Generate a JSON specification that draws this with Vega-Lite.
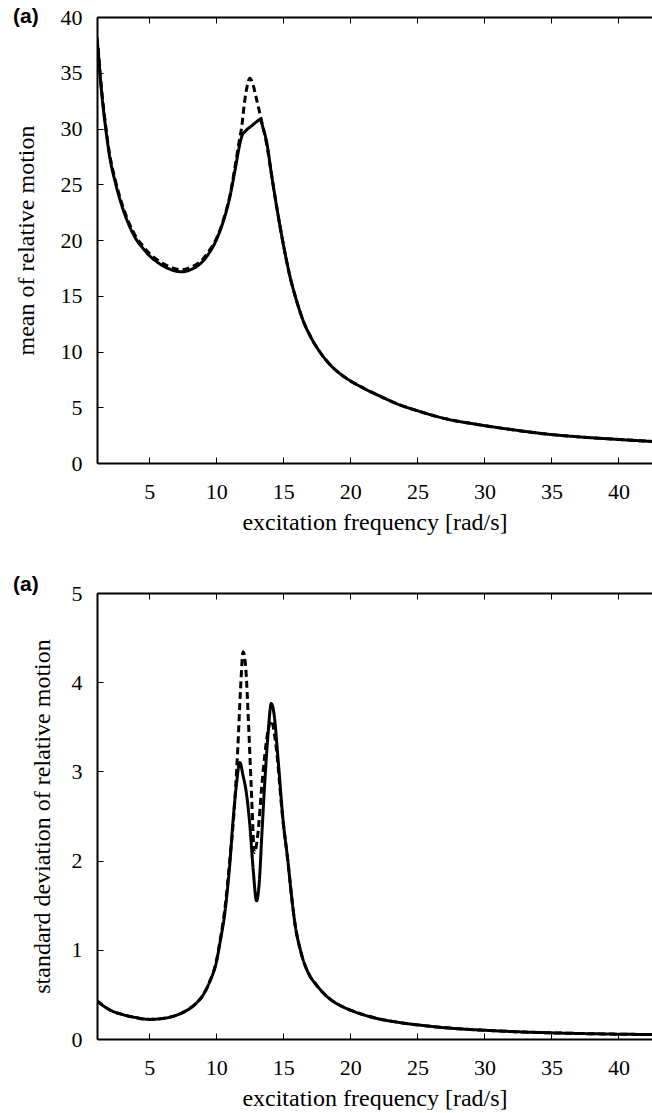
{
  "$schema": "https://vega.github.io/schema/vega-lite/v6.json",
  "padding": {"left": 13, "top": 6, "right": 0, "bottom": 0},
  "background": "white",
  "config": {
    "font": "Liberation Serif",
    "view": {"stroke": null},
    "axis": {"grid": false, "domainColor": "black", "domainWidth": 2, "tickColor": "black", "tickWidth": 1, "tickSize": -6, "labelFont": "Liberation Serif", "labelFontSize": 22, "labelColor": "black", "labelPadding": 21, "titleFont": "Liberation Serif", "titleFontSize": 24, "titleFontWeight": "normal", "titleColor": "black", "titlePadding": 22},
    "title": {"font": "Liberation Sans", "fontSize": 21, "fontWeight": "bold", "anchor": "start", "frame": "group", "color": "black"},
    "concat": {"spacing": 40}
  },
  "datasets": {
    "mean": [
      {"x": 1.1, "v": 38.0, "s": "solid"}, {"x": 1.2, "v": 36.8, "s": "solid"}, {"x": 1.35, "v": 34.5, "s": "solid"}, {"x": 1.5, "v": 32.6, "s": "solid"}, {"x": 1.75, "v": 30.0, "s": "solid"}, {"x": 2.0, "v": 27.8, "s": "solid"}, {"x": 2.5, "v": 25.0, "s": "solid"}, {"x": 3.0, "v": 22.9, "s": "solid"}, {"x": 3.5, "v": 21.3, "s": "solid"}, {"x": 4.0, "v": 20.1, "s": "solid"}, {"x": 4.5, "v": 19.3, "s": "solid"}, {"x": 5.0, "v": 18.6, "s": "solid"}, {"x": 5.5, "v": 18.1, "s": "solid"}, {"x": 6.0, "v": 17.7, "s": "solid"}, {"x": 6.5, "v": 17.4, "s": "solid"}, {"x": 7.0, "v": 17.2, "s": "solid"}, {"x": 7.5, "v": 17.15, "s": "solid"}, {"x": 8.0, "v": 17.3, "s": "solid"}, {"x": 8.5, "v": 17.6, "s": "solid"}, {"x": 9.0, "v": 18.1, "s": "solid"}, {"x": 9.5, "v": 18.9, "s": "solid"}, {"x": 10.0, "v": 20.0, "s": "solid"}, {"x": 10.5, "v": 21.6, "s": "solid"}, {"x": 11.0, "v": 23.8, "s": "solid"}, {"x": 11.4, "v": 26.3, "s": "solid"}, {"x": 11.7, "v": 28.3, "s": "solid"}, {"x": 11.9, "v": 29.3, "s": "solid"}, {"x": 12.2, "v": 29.8, "s": "solid"}, {"x": 12.6, "v": 30.2, "s": "solid"}, {"x": 13.0, "v": 30.6, "s": "solid"}, {"x": 13.25, "v": 30.8, "s": "solid"}, {"x": 13.5, "v": 30.0, "s": "solid"}, {"x": 13.8, "v": 28.5, "s": "solid"}, {"x": 14.1, "v": 26.0, "s": "solid"}, {"x": 14.5, "v": 23.0, "s": "solid"}, {"x": 15.0, "v": 19.6, "s": "solid"}, {"x": 15.5, "v": 16.7, "s": "solid"}, {"x": 16.0, "v": 14.5, "s": "solid"}, {"x": 16.5, "v": 12.7, "s": "solid"}, {"x": 17.0, "v": 11.4, "s": "solid"}, {"x": 17.7, "v": 10.0, "s": "solid"}, {"x": 18.5, "v": 8.8, "s": "solid"}, {"x": 19.7, "v": 7.6, "s": "solid"}, {"x": 21.0, "v": 6.7, "s": "solid"}, {"x": 22.2, "v": 6.0, "s": "solid"}, {"x": 23.5, "v": 5.3, "s": "solid"}, {"x": 25.1, "v": 4.65, "s": "solid"}, {"x": 27.0, "v": 4.0, "s": "solid"}, {"x": 29.6, "v": 3.43, "s": "solid"}, {"x": 32.0, "v": 3.0, "s": "solid"}, {"x": 34.6, "v": 2.6, "s": "solid"}, {"x": 37.0, "v": 2.35, "s": "solid"}, {"x": 39.5, "v": 2.15, "s": "solid"}, {"x": 42.5, "v": 1.93, "s": "solid"},
      {"x": 1.1, "v": 38.2, "s": "dashed"}, {"x": 1.2, "v": 37.0, "s": "dashed"}, {"x": 1.35, "v": 34.7, "s": "dashed"}, {"x": 1.5, "v": 32.8, "s": "dashed"}, {"x": 1.75, "v": 30.2, "s": "dashed"}, {"x": 2.0, "v": 28.0, "s": "dashed"}, {"x": 2.5, "v": 25.2, "s": "dashed"}, {"x": 3.0, "v": 23.1, "s": "dashed"}, {"x": 3.5, "v": 21.5, "s": "dashed"}, {"x": 4.0, "v": 20.3, "s": "dashed"}, {"x": 4.5, "v": 19.5, "s": "dashed"}, {"x": 5.0, "v": 18.8, "s": "dashed"}, {"x": 5.5, "v": 18.3, "s": "dashed"}, {"x": 6.0, "v": 17.9, "s": "dashed"}, {"x": 6.5, "v": 17.6, "s": "dashed"}, {"x": 7.0, "v": 17.4, "s": "dashed"}, {"x": 7.5, "v": 17.35, "s": "dashed"}, {"x": 8.0, "v": 17.5, "s": "dashed"}, {"x": 8.5, "v": 17.8, "s": "dashed"}, {"x": 9.0, "v": 18.3, "s": "dashed"}, {"x": 9.5, "v": 19.1, "s": "dashed"}, {"x": 10.0, "v": 20.1, "s": "dashed"}, {"x": 10.5, "v": 21.7, "s": "dashed"}, {"x": 11.0, "v": 23.9, "s": "dashed"}, {"x": 11.4, "v": 26.6, "s": "dashed"}, {"x": 11.7, "v": 28.8, "s": "dashed"}, {"x": 11.9, "v": 30.2, "s": "dashed"}, {"x": 12.1, "v": 32.3, "s": "dashed"}, {"x": 12.3, "v": 33.8, "s": "dashed"}, {"x": 12.5, "v": 34.5, "s": "dashed"}, {"x": 12.7, "v": 34.1, "s": "dashed"}, {"x": 12.95, "v": 32.9, "s": "dashed"}, {"x": 13.2, "v": 31.6, "s": "dashed"}, {"x": 13.45, "v": 30.3, "s": "dashed"}, {"x": 13.8, "v": 28.3, "s": "dashed"}, {"x": 14.1, "v": 26.0, "s": "dashed"}, {"x": 14.5, "v": 23.0, "s": "dashed"}, {"x": 15.0, "v": 19.6, "s": "dashed"}, {"x": 15.5, "v": 16.7, "s": "dashed"}, {"x": 16.0, "v": 14.5, "s": "dashed"}, {"x": 16.5, "v": 12.7, "s": "dashed"}, {"x": 17.0, "v": 11.4, "s": "dashed"}, {"x": 17.7, "v": 10.0, "s": "dashed"}, {"x": 18.5, "v": 8.8, "s": "dashed"}, {"x": 19.7, "v": 7.6, "s": "dashed"}, {"x": 21.0, "v": 6.7, "s": "dashed"}, {"x": 22.2, "v": 6.0, "s": "dashed"}, {"x": 23.5, "v": 5.3, "s": "dashed"}, {"x": 25.1, "v": 4.65, "s": "dashed"}, {"x": 27.0, "v": 4.0, "s": "dashed"}, {"x": 29.6, "v": 3.43, "s": "dashed"}, {"x": 32.0, "v": 3.0, "s": "dashed"}, {"x": 34.6, "v": 2.6, "s": "dashed"}, {"x": 37.0, "v": 2.35, "s": "dashed"}, {"x": 39.5, "v": 2.15, "s": "dashed"}, {"x": 42.5, "v": 1.93, "s": "dashed"}
    ],
    "std": [
      {"x": 1.1, "v": 0.43, "s": "solid"}, {"x": 1.5, "v": 0.38, "s": "solid"}, {"x": 2.0, "v": 0.33, "s": "solid"}, {"x": 3.0, "v": 0.275, "s": "solid"}, {"x": 4.0, "v": 0.24, "s": "solid"}, {"x": 5.0, "v": 0.22, "s": "solid"}, {"x": 6.0, "v": 0.23, "s": "solid"}, {"x": 7.0, "v": 0.265, "s": "solid"}, {"x": 8.0, "v": 0.34, "s": "solid"}, {"x": 8.5, "v": 0.4, "s": "solid"}, {"x": 9.0, "v": 0.49, "s": "solid"}, {"x": 9.5, "v": 0.64, "s": "solid"}, {"x": 10.0, "v": 0.86, "s": "solid"}, {"x": 10.3, "v": 1.1, "s": "solid"}, {"x": 10.64, "v": 1.42, "s": "solid"}, {"x": 11.0, "v": 1.95, "s": "solid"}, {"x": 11.26, "v": 2.47, "s": "solid"}, {"x": 11.5, "v": 2.85, "s": "solid"}, {"x": 11.75, "v": 3.1, "s": "solid"}, {"x": 12.0, "v": 2.95, "s": "solid"}, {"x": 12.25, "v": 2.75, "s": "solid"}, {"x": 12.5, "v": 2.4, "s": "solid"}, {"x": 12.75, "v": 1.9, "s": "solid"}, {"x": 13.0, "v": 1.55, "s": "solid"}, {"x": 13.2, "v": 1.75, "s": "solid"}, {"x": 13.4, "v": 2.3, "s": "solid"}, {"x": 13.6, "v": 2.84, "s": "solid"}, {"x": 13.85, "v": 3.4, "s": "solid"}, {"x": 14.1, "v": 3.76, "s": "solid"}, {"x": 14.3, "v": 3.65, "s": "solid"}, {"x": 14.6, "v": 3.15, "s": "solid"}, {"x": 14.97, "v": 2.47, "s": "solid"}, {"x": 15.35, "v": 1.98, "s": "solid"}, {"x": 15.6, "v": 1.62, "s": "solid"}, {"x": 15.85, "v": 1.31, "s": "solid"}, {"x": 16.3, "v": 0.98, "s": "solid"}, {"x": 16.83, "v": 0.75, "s": "solid"}, {"x": 17.5, "v": 0.6, "s": "solid"}, {"x": 18.3, "v": 0.47, "s": "solid"}, {"x": 19.0, "v": 0.395, "s": "solid"}, {"x": 19.9, "v": 0.33, "s": "solid"}, {"x": 20.8, "v": 0.28, "s": "solid"}, {"x": 22.0, "v": 0.23, "s": "solid"}, {"x": 23.65, "v": 0.185, "s": "solid"}, {"x": 25.5, "v": 0.15, "s": "solid"}, {"x": 27.4, "v": 0.122, "s": "solid"}, {"x": 30.0, "v": 0.098, "s": "solid"}, {"x": 32.3, "v": 0.082, "s": "solid"}, {"x": 35.0, "v": 0.069, "s": "solid"}, {"x": 37.3, "v": 0.061, "s": "solid"}, {"x": 40.0, "v": 0.054, "s": "solid"}, {"x": 42.5, "v": 0.05, "s": "solid"},
      {"x": 1.1, "v": 0.43, "s": "dashed"}, {"x": 1.5, "v": 0.38, "s": "dashed"}, {"x": 2.0, "v": 0.33, "s": "dashed"}, {"x": 3.0, "v": 0.275, "s": "dashed"}, {"x": 4.0, "v": 0.24, "s": "dashed"}, {"x": 5.0, "v": 0.22, "s": "dashed"}, {"x": 6.0, "v": 0.23, "s": "dashed"}, {"x": 7.0, "v": 0.265, "s": "dashed"}, {"x": 8.0, "v": 0.34, "s": "dashed"}, {"x": 8.5, "v": 0.4, "s": "dashed"}, {"x": 9.0, "v": 0.49, "s": "dashed"}, {"x": 9.5, "v": 0.64, "s": "dashed"}, {"x": 10.0, "v": 0.87, "s": "dashed"}, {"x": 10.3, "v": 1.12, "s": "dashed"}, {"x": 10.64, "v": 1.46, "s": "dashed"}, {"x": 11.0, "v": 2.0, "s": "dashed"}, {"x": 11.3, "v": 2.5, "s": "dashed"}, {"x": 11.6, "v": 3.25, "s": "dashed"}, {"x": 11.8, "v": 3.9, "s": "dashed"}, {"x": 12.0, "v": 4.34, "s": "dashed"}, {"x": 12.2, "v": 4.15, "s": "dashed"}, {"x": 12.4, "v": 3.55, "s": "dashed"}, {"x": 12.6, "v": 2.84, "s": "dashed"}, {"x": 12.85, "v": 2.09, "s": "dashed"}, {"x": 13.1, "v": 2.3, "s": "dashed"}, {"x": 13.4, "v": 2.85, "s": "dashed"}, {"x": 13.85, "v": 3.45, "s": "dashed"}, {"x": 14.1, "v": 3.57, "s": "dashed"}, {"x": 14.4, "v": 3.35, "s": "dashed"}, {"x": 14.97, "v": 2.45, "s": "dashed"}, {"x": 15.35, "v": 1.98, "s": "dashed"}, {"x": 15.6, "v": 1.62, "s": "dashed"}, {"x": 15.85, "v": 1.31, "s": "dashed"}, {"x": 16.3, "v": 0.98, "s": "dashed"}, {"x": 16.83, "v": 0.75, "s": "dashed"}, {"x": 17.5, "v": 0.6, "s": "dashed"}, {"x": 18.3, "v": 0.47, "s": "dashed"}, {"x": 19.0, "v": 0.395, "s": "dashed"}, {"x": 19.9, "v": 0.33, "s": "dashed"}, {"x": 20.8, "v": 0.28, "s": "dashed"}, {"x": 22.0, "v": 0.23, "s": "dashed"}, {"x": 23.65, "v": 0.185, "s": "dashed"}, {"x": 25.5, "v": 0.15, "s": "dashed"}, {"x": 27.4, "v": 0.122, "s": "dashed"}, {"x": 30.0, "v": 0.098, "s": "dashed"}, {"x": 32.3, "v": 0.082, "s": "dashed"}, {"x": 35.0, "v": 0.069, "s": "dashed"}, {"x": 37.3, "v": 0.061, "s": "dashed"}, {"x": 40.0, "v": 0.054, "s": "dashed"}, {"x": 42.5, "v": 0.05, "s": "dashed"}
    ]
  },
  "vconcat": [
    {
      "width": 555, "height": 446,
      "title": {"text": "(a)", "dx": -84, "dy": 25},
      "data": {"name": "mean"},
      "layer": [
        {
          "mark": {"type": "line", "strokeWidth": 3, "clip": true, "color": "black", "interpolate": "monotone"},
          "encoding": {
            "x": {"field": "x", "type": "quantitative", "scale": {"domain": [1.1, 42.5], "nice": false, "zero": false}, "axis": {"orient": "bottom", "values": [5, 10, 15, 20, 25, 30, 35, 40], "title": "excitation frequency [rad/s]", "labelPadding": 24, "titlePadding": 8}},
            "y": {"field": "v", "type": "quantitative", "scale": {"domain": [0, 40], "nice": false}, "axis": {"values": [0, 5, 10, 15, 20, 25, 30, 35, 40], "title": "mean of relative motion"}},
            "strokeDash": {"field": "s", "type": "nominal", "scale": {"domain": ["solid", "dashed"], "range": [[1, 0], [7, 4]]}, "legend": null}
          }
        },
        {
          "mark": {"type": "line", "opacity": 0},
          "encoding": {
            "x": {"field": "x", "type": "quantitative", "axis": {"orient": "top", "labels": false, "title": null, "values": [5, 10, 15, 20, 25, 30, 35, 40]}},
            "y": {"field": "v", "type": "quantitative"}
          }
        }
      ],
      "resolve": {"axis": {"x": "independent"}}
    },
    {
      "width": 555, "height": 446,
      "title": {"text": "(a)", "dx": -84, "dy": 17},
      "data": {"name": "std"},
      "layer": [
        {
          "mark": {"type": "line", "strokeWidth": 3, "clip": true, "color": "black", "interpolate": "monotone"},
          "encoding": {
            "x": {"field": "x", "type": "quantitative", "scale": {"domain": [1.1, 42.5], "nice": false, "zero": false}, "axis": {"orient": "bottom", "values": [5, 10, 15, 20, 25, 30, 35, 40], "title": "excitation frequency [rad/s]", "labelPadding": 24, "titlePadding": 8}},
            "y": {"field": "v", "type": "quantitative", "scale": {"domain": [0, 5], "nice": false}, "axis": {"values": [0, 1, 2, 3, 4, 5], "format": "d", "title": "standard deviation of relative motion", "titlePadding": 17}},
            "strokeDash": {"field": "s", "type": "nominal", "scale": {"domain": ["solid", "dashed"], "range": [[1, 0], [7, 4]]}, "legend": null}
          }
        },
        {
          "mark": {"type": "line", "opacity": 0},
          "encoding": {
            "x": {"field": "x", "type": "quantitative", "axis": {"orient": "top", "labels": false, "title": null, "values": [5, 10, 15, 20, 25, 30, 35, 40]}},
            "y": {"field": "v", "type": "quantitative"}
          }
        }
      ],
      "resolve": {"axis": {"x": "independent"}}
    }
  ]
}
